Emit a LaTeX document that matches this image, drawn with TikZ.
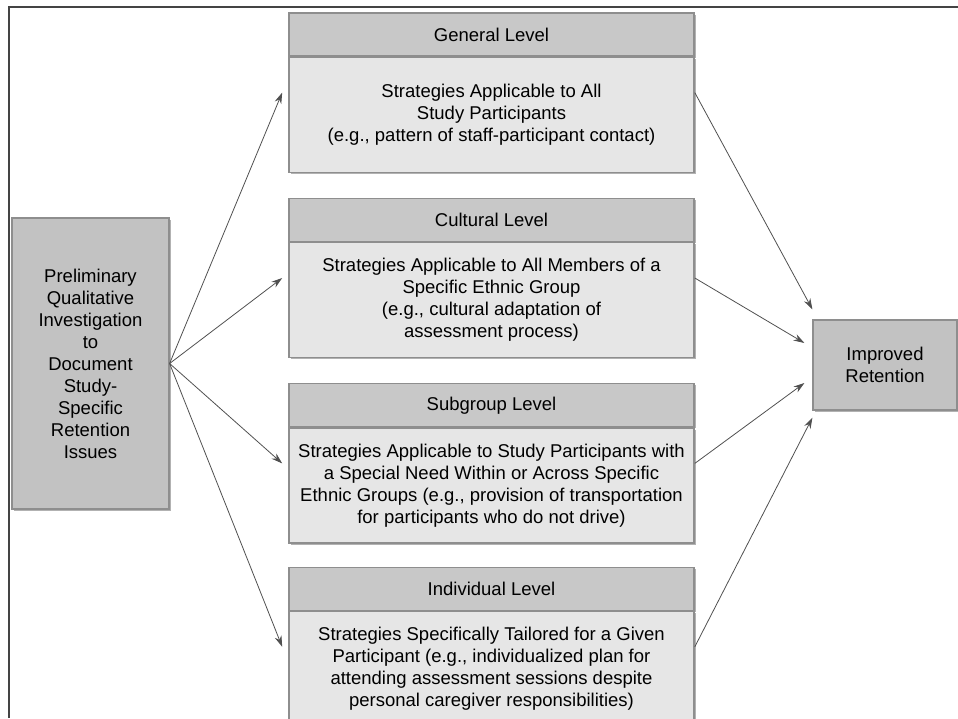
\documentclass[tikz,border=0pt]{standalone}
\usepackage{fontspec}
\setmainfont{Liberation Sans}
\usetikzlibrary{positioning,fit,arrows.meta,shadows}

\definecolor{boxgray}{HTML}{C2C2C2}
\definecolor{headgray}{HTML}{C8C8C8}
\definecolor{bodygray}{HTML}{E6E6E6}
\definecolor{edgegray}{HTML}{8E8E8E}
\definecolor{arrowgray}{HTML}{505050}
\definecolor{framegray}{HTML}{444444}

\tikzset{
  boxfont/.style={font=\fontsize{18.5}{22}\selectfont},
  bevel/.style={drop shadow={shadow xshift=1.5pt, shadow yshift=-1.5pt,
    fill=black, opacity=0.3}},
  sidebox/.style={boxfont, bevel, draw=edgegray, line width=1.2pt, fill=boxgray,
    align=center, inner sep=0pt},
  levelhead/.style={boxfont, bevel, draw=edgegray, line width=1.2pt, fill=headgray,
    minimum width=405pt, minimum height=43pt, inner sep=0pt},
  levelbody/.style={boxfont, bevel, draw=edgegray, line width=1.2pt, fill=bodygray,
    minimum width=405pt, minimum height=115pt, inner sep=0pt, align=center},
  levelgroup/.style={inner sep=0pt},
  link/.style={draw=arrowgray, line width=0.8pt, -{Stealth[length=11pt,width=7pt]}},
}

\begin{document}
\begin{tikzpicture}[x=1pt,y=-1pt]
\useasboundingbox (0,0) rectangle (958,718);

% frame
\draw[framegray, line width=1.2pt]
(9,718)
--
(9,7)
--
(958,7);

% starting box
\node[sidebox, minimum width=157pt, minimum height=291pt] (prelim) at (90.5,363.5)
{Preliminary\\Qualitative\\Investigation\\to\\Document\\Study-\\Specific\\Retention\\Issues};

% the four levels
\node[levelhead] (ghead) at (491.5,34.5)
{General Level};
\node[levelbody, below=0pt of ghead] (gbody)
{Strategies Applicable to All\\Study Participants\\(e.g., pattern of staff-participant contact)};

\node[levelhead, below=25pt of gbody] (chead)
{Cultural Level};
\node[levelbody, below=0pt of chead] (cbody)
{Strategies Applicable to All Members of a\\Specific Ethnic Group\\(e.g., cultural adaptation of\\assessment process)};

\node[levelhead, below=25pt of cbody] (shead)
{Subgroup Level};
\node[levelbody, below=0pt of shead] (sbody)
{Strategies Applicable to Study Participants with\\a Special Need Within or Across Specific\\Ethnic Groups (e.g., provision of transportation\\for participants who do not drive)};

\node[levelhead, below=23pt of sbody] (ihead)
{Individual Level};
\node[levelbody, below=0pt of ihead] (ibody)
{Strategies Specifically Tailored for a Given\\Participant (e.g., individualized plan for\\attending assessment sessions despite\\personal caregiver responsibilities)};

\node[levelgroup, fit=(ghead)(gbody)] (general) {};
\node[levelgroup, fit=(chead)(cbody)] (cultural) {};
\node[levelgroup, fit=(shead)(sbody)] (subgroup) {};
\node[levelgroup, fit=(ihead)(ibody)] (individual) {};

% outcome
\node[sidebox, minimum width=144pt, minimum height=90pt] (retain) at (885,365)
{Improved\\Retention};

% arrows out
\draw[link] (prelim.east) -- ([xshift=-6pt]general.west);
\draw[link] (prelim.east) -- ([xshift=-6pt]cultural.west);
\draw[link] (prelim.east) -- ([xshift=-6pt]subgroup.west);
\draw[link] (prelim.east) -- ([xshift=-6pt]individual.west);

% arrows in
\draw[link] (general.east) -- ([yshift=10pt]retain.north west);
\draw[link] (cultural.east) -- ([xshift=-8pt,yshift=22pt]retain.west);
\draw[link] (subgroup.east) -- ([xshift=-8pt,yshift=-18pt]retain.west);
\draw[link] (individual.east) -- ([yshift=-7pt]retain.south west);

\end{tikzpicture}
\end{document}
